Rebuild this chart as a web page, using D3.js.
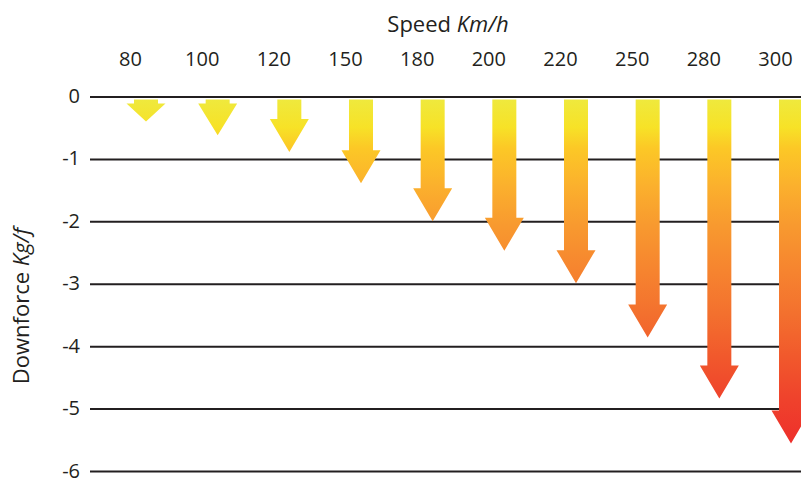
<!DOCTYPE html>
<html>
<head>
<meta charset="utf-8">
<script src="https://cdn.jsdelivr.net/npm/d3@7"></script>
<style>
  body { margin: 0; background: #fff; }
  svg text { font-family: "Open Sans", "Noto Sans", sans-serif; fill: #231f20; }
</style>
</head>
<body>
<div id="chart"></div>
<script>
const speeds = ['80', '100', '120', '150', '180', '200', '220', '250', '280', '300'];
const downforce = [0.40, 0.62, 0.89, 1.39, 2.00, 2.47, 2.99, 3.86, 4.84, 5.56];
const yTicks = [0, -1, -2, -3, -4, -5, -6];

const width = 801;
const height = 479;

const svg = d3.select('#chart')
    .append('svg')
    .attr('width', width)
    .attr('height', height);

// colour runs from yellow at the top to red at the bottom, same for every arrow
const gradStops = [
    [0.00, '#efe93d'],
    [0.08, '#f7e227'],
    [0.14, '#fcc826'],
    [0.25, '#fbb02d'],
    [0.36, '#f89a2f'],
    [0.50, '#f6832f'],
    [0.62, '#f3702e'],
    [0.74, '#f1592c'],
    [0.86, '#ef432c'],
    [1.00, '#ee2e2b']
];

const x = d3.scalePoint()
    .domain(speeds)
    .range([146, 791]);

const y = d3.scaleLinear()
    .domain([0, -6])
    .range([96.5, 471]);

const defs = svg.append('defs');
const grad = defs.append('linearGradient')
    .attr('id', 'arrowGrad')
    .attr('gradientUnits', 'userSpaceOnUse')
    .attr('x1', 0).attr('x2', 0)
    .attr('y1', y(0) + 3)
    .attr('y2', y(-5.6));
grad.selectAll('stop')
    .data(gradStops)
    .enter()
    .append('stop')
    .attr('offset', d => d[0])
    .attr('stop-color', d => d[1]);

// Y axis with gridlines across the plot (plain hyphen for the minus sign)
const yAxis = svg.append('g')
    .attr('transform', 'translate(90,0)')
    .call(d3.axisLeft(y)
        .tickValues(yTicks)
        .tickFormat(d => String(d))
        .tickSize(-(width - 90))
        .tickPadding(10));
yAxis.select('.domain').remove();
yAxis.selectAll('.tick line')
    .attr('stroke', '#231f20')
    .attr('stroke-width', 2);
yAxis.selectAll('.tick text')
    .attr('font-size', '20px')
    .attr('dy', '0.3em')
    .style('fill', '#231f20');

// X axis labels on top
const xAxis = svg.append('g')
    .attr('transform', 'translate(-16,66)')
    .call(d3.axisTop(x).tickSize(0).tickPadding(0));
xAxis.select('.domain').remove();
xAxis.selectAll('.tick text')
    .attr('font-size', '20px')
    .style('fill', '#231f20');

// arrows
const shaftW = 24;
const headW = 39;
const headMax = 33;

function arrowPath(cat, v) {
    const cx = x(cat);
    const top = y(0) + 3;
    const tip = y(-v);
    const headH = Math.min(headMax, tip - top - 4);
    const neck = tip - headH;
    return [
        [cx - shaftW / 2, top],
        [cx + shaftW / 2, top],
        [cx + shaftW / 2, neck],
        [cx + headW / 2, neck],
        [cx, tip],
        [cx - headW / 2, neck],
        [cx - shaftW / 2, neck]
    ];
}

svg.append('g')
    .selectAll('path')
    .data(speeds.map((s, i) => ({ speed: s, value: downforce[i] })))
    .enter()
    .append('path')
    .attr('d', d => d3.line()(arrowPath(d.speed, d.value)) + 'Z')
    .attr('fill', 'url(#arrowGrad)');

// axis titles
const title = svg.append('text')
    .attr('x', 448)
    .attr('y', 32)
    .attr('text-anchor', 'middle')
    .attr('font-size', '22px');
title.append('tspan').text('Speed ');
title.append('tspan').attr('font-style', 'italic').text('Km/h');

const yTitle = svg.append('text')
    .attr('transform', 'translate(29,306) rotate(-90)')
    .attr('text-anchor', 'middle')
    .attr('font-size', '22px');
yTitle.append('tspan').text('Downforce ');
yTitle.append('tspan').attr('font-style', 'italic').text('Kg/f');
</script>
</body>
</html>
